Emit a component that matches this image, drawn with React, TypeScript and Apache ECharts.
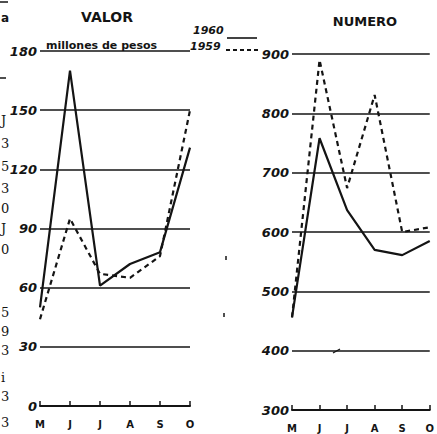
import React, { useEffect, useRef } from 'react';
import * as echarts from 'echarts';

const months = ['M', 'J', 'J', 'A', 'S', 'O'];
const valorTicks = { min: 0, max: 180, interval: 30 };
const numeroTicks = { min: 300, max: 900, interval: 100 };
const valor1960 = [50, 170, 61, 72, 78, 131];
const valor1959 = [44, 95, 67, 65, 76, 150];
const numero1960 = [456, 758, 637, 570, 561, 585];
const numero1959 = [456, 890, 674, 831, 600, 608];
const legendYears = ['1960', '1959'];
const edgeGlyphs = [
  { t: 'a', y: 18 }, { t: 'J', y: 120 }, { t: '3', y: 143 }, { t: '5', y: 166 },
  { t: '3', y: 188 }, { t: '0', y: 208 }, { t: 'J', y: 228 }, { t: '0', y: 249 },
  { t: '5', y: 312 }, { t: '9', y: 331 }, { t: '3', y: 350 }, { t: 'i', y: 377 },
  { t: '3', y: 396 }, { t: '3', y: 422 },
];

export default function App() {
  const ref = useRef<HTMLDivElement>(null);
  useEffect(() => {
    const chart = echarts.init(ref.current as HTMLDivElement, null, { renderer: 'svg' });
    const ink = '#141414';
    const fam = 'DejaVu Sans';
    const yLabel = { color: ink, fontFamily: fam, fontWeight: 'bold', fontStyle: 'italic', fontSize: 13, margin: 3 };
    const monthLabel = { color: ink, fontFamily: fam, fontWeight: 'bold', fontSize: 10, interval: 0 };
    const xAxis = (gridIndex: number, margin: number) => ({
      type: 'category', gridIndex, data: months, boundaryGap: false,
      axisLine: { lineStyle: { color: ink, width: 2 } },
      axisTick: { inside: true, length: 5, interval: 0, lineStyle: { color: ink, width: 1.5 } },
      axisLabel: { ...monthLabel, margin },
      splitLine: { show: false },
    });
    const yAxis = (gridIndex: number, t: any) => ({
      type: 'value', gridIndex, min: t.min, max: t.max, interval: t.interval,
      axisLine: { show: false }, axisTick: { show: false },
      axisLabel: yLabel,
      splitLine: { lineStyle: { color: ink, width: 1.6 } },
    });
    const solid = { color: ink, width: 2.2, type: 'solid' };
    const dashed = { color: ink, width: 2.2, type: [5, 4] };
    const seriesFor = (name: string, data: number[], idx: number, ls: any) => ({
      name, type: 'line', xAxisIndex: idx, yAxisIndex: idx, data,
      symbol: 'none', lineStyle: ls, itemStyle: { color: ink }, z: 3,
    });

    const glyphs: any[] = edgeGlyphs.map((g, i) => ({
      type: 'text', x: 1, y: g.y,
      style: {
        text: g.t, fill: ink, fontFamily: i === 0 ? fam : 'DejaVu Serif',
        fontWeight: i === 0 ? 'bold' : 'normal', fontSize: i === 0 ? 12 : 13,
        textAlign: 'left', textVerticalAlign: 'middle',
      },
    }));

    chart.setOption({
      animation: false,
      backgroundColor: '#ffffff',
      grid: [
        { left: 40, top: 51, width: 150, height: 355 },
        { left: 292, top: 54, width: 152, height: 356 },
      ],
      xAxis: [xAxis(0, 13), xAxis(1, 13)],
      yAxis: [yAxis(0, valorTicks), yAxis(1, numeroTicks)],
      series: [
        seriesFor('1960', valor1960, 0, solid),
        seriesFor('1959', valor1959, 0, dashed),
        seriesFor('1960', numero1960, 1, solid),
        seriesFor('1959', numero1959, 1, dashed),
      ],
      graphic: [
        { type: 'text', x: 107, y: 17, style: { text: 'VALOR', fill: ink, fontFamily: fam, fontWeight: 'bold', fontSize: 14, textAlign: 'center', textVerticalAlign: 'middle' } },
        { type: 'text', x: 365, y: 21, style: { text: 'NUMERO', fill: ink, fontFamily: fam, fontWeight: 'bold', fontSize: 13, textAlign: 'center', textVerticalAlign: 'middle' } },
        { type: 'text', x: 46, y: 51, style: { text: 'millones de pesos', fill: ink, fontFamily: fam, fontWeight: 'bold', fontSize: 11, textAlign: 'left', textVerticalAlign: 'bottom' } },
        { type: 'text', x: 193, y: 36, style: { text: legendYears[0], fill: ink, fontFamily: fam, fontWeight: 'bold', fontStyle: 'italic', fontSize: 11, textAlign: 'left', textVerticalAlign: 'bottom' } },
        { type: 'text', x: 190, y: 52, style: { text: legendYears[1], fill: ink, fontFamily: fam, fontWeight: 'bold', fontStyle: 'italic', fontSize: 11, textAlign: 'left', textVerticalAlign: 'bottom' } },
        { type: 'line', shape: { x1: 227, y1: 38, x2: 257, y2: 38 }, style: { stroke: ink, lineWidth: 1.6 } },
        { type: 'line', shape: { x1: 226, y1: 50, x2: 258, y2: 50 }, style: { stroke: ink, lineWidth: 1.8, lineDash: [4, 3] } },
        { type: 'line', shape: { x1: 0, y1: 2, x2: 8, y2: 2 }, style: { stroke: ink, lineWidth: 1.5 } },
        { type: 'line', shape: { x1: 0, y1: 78, x2: 6, y2: 78 }, style: { stroke: ink, lineWidth: 1.5 } },
        { type: 'line', shape: { x1: 226, y1: 256, x2: 226, y2: 260 }, style: { stroke: ink, lineWidth: 1.5 } },
        { type: 'line', shape: { x1: 224, y1: 313, x2: 224, y2: 317 }, style: { stroke: ink, lineWidth: 1.5 } },
        { type: 'line', shape: { x1: 333, y1: 353, x2: 340, y2: 349 }, style: { stroke: ink, lineWidth: 1.3 } },
        ...glyphs,
      ],
    });
    return () => chart.dispose();
  }, []);
  return <div ref={ref} style={{ position: 'absolute', left: 0, top: 0, width: 437, height: 434 }} />;
}
